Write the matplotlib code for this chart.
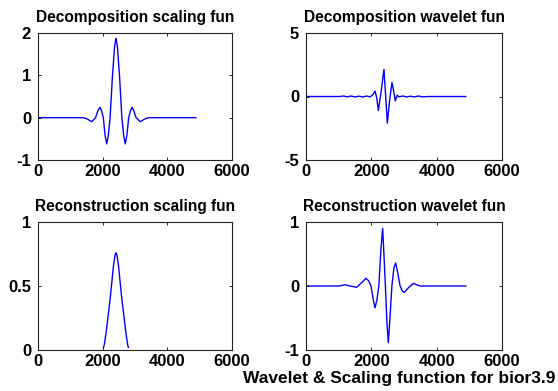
import numpy as np
import matplotlib
matplotlib.use('Agg')
import matplotlib.pyplot as plt
from matplotlib.patches import Rectangle

plt.rcParams['font.family'] = ['Liberation Sans', 'DejaVu Sans']
plt.rcParams['font.weight'] = 'bold'
plt.rcParams['font.size'] = 12

# values (x in samples, y in function value)
dec_phi_x = [0, 1400, 1520, 1660, 1780, 1860, 1918, 1970, 2020, 2075, 2124, 2175, 2230,
             2300, 2365, 2400, 2412, 2424, 2459, 2524, 2594, 2649, 2700, 2749, 2804,
             2857, 2906, 2954, 3034, 3164, 3304, 3424, 4880]
dec_phi_y = [0, 0, -0.03, -0.094, 0, 0.18, 0.245, 0.15, 0, -0.42, -0.62, -0.42, 0,
             0.95, 1.65, 1.84, 1.87, 1.84, 1.65, 0.95, 0, -0.42, -0.62, -0.42, 0,
             0.15, 0.245, 0.18, 0, -0.094, -0.03, 0, 0]

dec_psi_x = [0, 1040, 1150, 1260, 1380, 1500, 1620, 1740, 1860, 1960, 2050, 2112, 2165,
             2214, 2300, 2387, 2440, 2490, 2560, 2632, 2685, 2734, 2790, 2850, 2960,
             3080, 3200, 3320, 3440, 3560, 3735, 4890]
dec_psi_y = [0, 0, 0.04, -0.03, 0.04, -0.04, 0.03, -0.04, 0.04, -0.03, 0.15, 0.43, -0.1,
             -1.1, 0.4, 2.14, 0.0, -2.1, -0.3, 1.1, 0.4, -0.36, 0.1, -0.03, 0.04,
             -0.04, 0.03, -0.04, 0.04, -0.03, 0, 0]

rec_phi_x = [0, 2000, 2050, 2103, 2165, 2227, 2280, 2330, 2380, 2412, 2444, 2494,
             2544, 2597, 2659, 2721, 2774, 2815, 4880]
rec_phi_y = [0, 0, 0.04, 0.13, 0.26, 0.39, 0.52, 0.65, 0.74, 0.76, 0.74, 0.65,
             0.52, 0.39, 0.26, 0.13, 0.04, 0, 0]

rec_psi_x = [0, 1020, 1200, 1350, 1551, 1700, 1837, 1920, 1990, 2060, 2112, 2170,
             2230, 2290, 2347, 2390, 2430, 2480, 2520, 2570, 2630, 2690, 2745, 2810,
             2880, 2950, 3010, 3150, 3286, 3490, 4890]
rec_psi_y = [0, 0, 0.02, 0.0, -0.02, 0.05, 0.12, 0.08, 0, -0.22, -0.34, -0.22,
             0, 0.55, 0.9, 0.45, 0, -0.6, -0.885, -0.5, 0, 0.28, 0.36, 0.2,
             0, -0.08, -0.10, -0.02, 0.04, 0, 0]

titles = ['Decomposition scaling fun', 'Decomposition wavelet fun',
          'Reconstruction scaling fun', 'Reconstruction wavelet fun']
xs = [dec_phi_x, dec_psi_x, rec_phi_x, rec_psi_x]
ys = [dec_phi_y, dec_psi_y, rec_phi_y, rec_psi_y]
ylims = [(-1, 2), (-5, 5), (0, 1), (-1, 1)]
yticks = [[-1, 0, 1, 2], [-5, 0, 5], [0, 0.5, 1], [-1, 0, 1]]
xticks = [0, 2000, 4000, 6000]

W, H = 558, 391
fig = plt.figure(figsize=(W / 100, H / 100), dpi=100)
boxes = [(38, 33, 232, 160), (306, 33, 502, 160),
         (38, 222, 232, 350), (306, 222, 502, 350)]

for i in range(4):
    x0, y0, x1, y1 = boxes[i]
    ax = fig.add_axes([x0 / W, 1 - y1 / H, (x1 - x0) / W, (y1 - y0) / H])
    line, = ax.plot(xs[i], ys[i], color='b', lw=1.0, zorder=1)
    # the axis line sits on top of anything at the lower limit
    clip = Rectangle((0, 0.012), 1, 0.988, transform=ax.transAxes)
    line.set_clip_path(clip)
    ax.set_xlim(0, 6000)
    ax.set_ylim(*ylims[i])
    ax.set_xticks(xticks)
    ax.set_yticks(yticks[i])
    ax.set_xticklabels(['0', '2000', '4000', '6000'])
    ax.set_yticklabels([('%g' % v) for v in yticks[i]])
    ax.tick_params(direction='in', length=2.5, width=0.6, top=True, right=True,
                   labelsize=12, pad=3)
    ax.tick_params(axis='y', pad=5)
    for s in ax.spines.values():
        s.set_linewidth(0.8)
        s.set_color('#222222')
    ax.set_title(titles[i], fontsize=11.2, fontweight='bold', pad=8)

fig.text(555 / W, 1 - 378 / H, 'Wavelet & Scaling function for bior3.9',
         ha='right', va='center', fontsize=12.5, fontweight='bold')

fig.savefig('out.png', dpi=100, facecolor='white')
